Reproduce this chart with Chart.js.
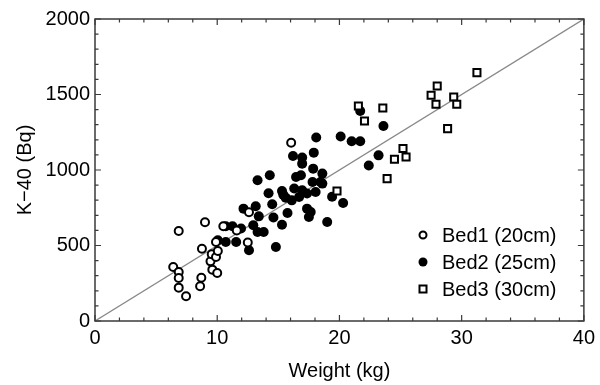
<!DOCTYPE html>
<html>
<head>
<meta charset="utf-8">
<script src="https://cdn.jsdelivr.net/npm/chart.js@4.4.1/dist/chart.umd.min.js"></script>
<style>
  html, body { margin: 0; padding: 0; background: #fff; }
  #wrap { width: 600px; height: 385px; }
</style>
</head>
<body>
<div id="wrap"><canvas id="chart"></canvas></div>
<script>
// Bed1 (20cm) - open circles
const bed1X = [6.4, 6.85, 6.85, 6.85, 6.85, 7.45, 8.6, 8.7, 8.75, 9.0, 9.45, 9.55, 9.6, 9.9, 9.9, 10.0, 10.05, 10.5, 11.6, 12.5, 12.6, 16.05];
const bed1Y = [358, 596, 325, 285, 221, 164, 230, 287, 479, 654, 395, 442, 340, 523, 424, 318, 463, 627, 600, 520, 720, 1181];

// Bed2 (25cm) - filled circles
const bed2X = [10.05, 10.7, 10.7, 11.25, 11.55, 11.95, 12.15, 12.6, 12.95, 13.15, 13.3, 13.3, 13.4, 13.8, 14.2,
  14.3, 14.5, 14.6, 14.8, 15.3, 15.3, 15.4, 15.6, 15.75, 16.1, 16.2, 16.3, 16.45, 16.7, 16.85,
  16.95, 16.95, 16.95, 17.35, 17.35, 17.5, 17.65, 17.8, 17.85, 17.9, 18.05, 18.1, 18.45, 18.6, 18.6,
  19.0, 19.4, 20.1, 20.3, 21.0, 21.7, 21.7, 22.4, 23.2, 23.6];
const bed2Y = [534, 523, 627, 627, 523, 612, 744, 468, 634, 760, 589, 932, 693, 589, 846,
  965, 773, 685, 490, 638, 861, 837, 817, 715, 799, 1093, 877, 954, 821, 965,
  1082, 1042, 866, 844, 744, 689, 722, 920, 1009, 1115, 854, 1215, 920, 976, 910,
  656, 823, 1222, 781, 1190, 1190, 1391, 1030, 1097, 1291];

// Bed3 (30cm) - open squares
const bed3X = [19.8, 21.55, 22.05, 23.55, 23.9, 24.5, 25.2, 25.45, 27.5, 27.9, 28.0, 28.85, 29.35, 29.6, 31.25];
const bed3Y = [861, 1424, 1324, 1411, 943, 1071, 1142, 1086, 1495, 1435, 1556, 1274, 1483, 1435, 1645];

// reference line
const lineX = [0, 40];
const lineY = [0, 2000];

const legendLabels = ['Bed1 (20cm)', 'Bed2 (25cm)', 'Bed3 (30cm)'];

const FONT = "'Liberation Sans', Arial, Helvetica, sans-serif";

function pts(xs, ys) {
  return xs.map((x, i) => ({ x: x, y: ys[i] }));
}

// frame + inward ticks on all four sides
const framePlugin = {
  id: 'frame',
  afterDatasetsDraw(chart) {
    const { ctx, chartArea: a } = chart;
    const xs = chart.scales.x, ys = chart.scales.y;
    ctx.save();
    ctx.strokeStyle = '#3a3a3a';
    ctx.lineWidth = 1.5;
    ctx.strokeRect(a.left, a.top, a.right - a.left, a.bottom - a.top);
    ctx.lineWidth = 1.2;
    ctx.beginPath();
    for (let v = 0; v <= 40; v += 2) {
      const p = xs.getPixelForValue(v);
      const len = v % 10 === 0 ? 6 : 3.5;
      ctx.moveTo(p, a.bottom); ctx.lineTo(p, a.bottom - len);
      ctx.moveTo(p, a.top); ctx.lineTo(p, a.top + len);
    }
    for (let v = 0; v <= 2000; v += 100) {
      const p = ys.getPixelForValue(v);
      const len = v % 500 === 0 ? 6 : 3.5;
      ctx.moveTo(a.left, p); ctx.lineTo(a.left + len, p);
      ctx.moveTo(a.right, p); ctx.lineTo(a.right - len, p);
    }
    ctx.stroke();

    // legend
    const mx = 423, tx = 442;
    const rows = [235, 262, 289];
    ctx.font = '20px ' + FONT;
    ctx.textBaseline = 'middle';
    ctx.textAlign = 'left';
    ctx.strokeStyle = '#000';
    ctx.lineWidth = 2;
    // open circle
    ctx.beginPath();
    ctx.arc(mx, rows[0], 3.5, 0, Math.PI * 2);
    ctx.fillStyle = '#fff'; ctx.fill(); ctx.stroke();
    // filled circle
    ctx.beginPath();
    ctx.arc(mx, rows[1], 4.5, 0, Math.PI * 2);
    ctx.fillStyle = '#000'; ctx.fill();
    // square
    ctx.strokeRect(mx - 3.5, rows[2] - 3.5, 7, 7);
    ctx.fillStyle = '#000';
    legendLabels.forEach((t, i) => ctx.fillText(t, tx, rows[i] + 1));
    ctx.restore();
  }
};

const ctx = document.getElementById('chart').getContext('2d');
const chart = new Chart(ctx, {
  type: 'scatter',
  data: {
    datasets: [
      {
        label: legendLabels[0],
        data: pts(bed1X, bed1Y),
        pointStyle: 'circle',
        pointRadius: 4,
        pointBorderWidth: 2,
        pointBackgroundColor: '#fff',
        pointBorderColor: '#000',
        order: 2
      },
      {
        label: legendLabels[1],
        data: pts(bed2X, bed2Y),
        pointStyle: 'circle',
        pointRadius: 5,
        pointBorderWidth: 0,
        pointBackgroundColor: '#000',
        pointBorderColor: '#000',
        order: 3
      },
      {
        label: legendLabels[2],
        data: pts(bed3X, bed3Y),
        pointStyle: 'rect',
        pointRadius: 5,
        pointBorderWidth: 2,
        pointBackgroundColor: '#fff',
        pointBorderColor: '#000',
        order: 1
      },
      {
        type: 'line',
        label: 'fit',
        data: pts(lineX, lineY),
        borderColor: '#8a8a8a',
        borderWidth: 1.3,
        pointRadius: 0,
        fill: false,
        order: 4
      }
    ]
  },
  options: {
    responsive: true,
    maintainAspectRatio: false,
    animation: false,
    layout: { padding: { top: 19, right: 14, left: 0, bottom: 0 } },
    plugins: {
      legend: { display: false },
      tooltip: { enabled: false }
    },
    scales: {
      x: {
        type: 'linear',
        min: 0, max: 40,
        grid: { display: false, drawTicks: false },
        border: { display: false },
        ticks: { stepSize: 10, padding: 5, color: '#000', font: { family: FONT, size: 20 }, callback: v => String(v) },
        title: { display: true, text: 'Weight (kg)', color: '#000', font: { family: FONT, size: 20 }, padding: { top: 0, bottom: 2 } },
        afterFit(s) { s.height = 64; }
      },
      y: {
        type: 'linear',
        min: 0, max: 2000,
        grid: { display: false, drawTicks: false },
        border: { display: false },
        ticks: { stepSize: 500, padding: 5, color: '#000', font: { family: FONT, size: 20 }, callback: v => String(v) },
        title: { display: true, text: 'K\u221240 (Bq)', color: '#000', font: { family: FONT, size: 20 }, padding: { top: 13, bottom: 0 } },
        afterFit(s) { s.width = 95; }
      }
    }
  },
  plugins: [framePlugin]
});
</script>
</body>
</html>
